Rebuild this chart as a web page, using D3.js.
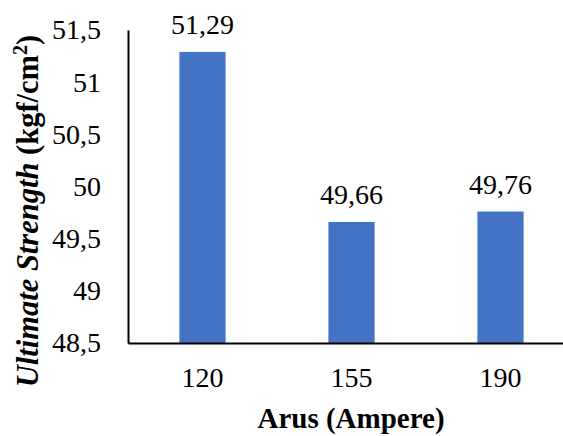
<!DOCTYPE html>
<html><head><meta charset="utf-8">
<script src="https://cdn.jsdelivr.net/npm/d3@7"></script>
<style>body{margin:0;background:#fff}svg{display:block}</style>
</head><body><svg id="c" width="563" height="436"></svg>
<script>
const categories = ["120","155","190"];
const values = [51.29, 49.66, 49.76];
const yTicks = [48.5, 49, 49.5, 50, 50.5, 51, 51.5];

const FONT = "'Liberation Serif', 'Times New Roman', serif";
const svg = d3.select("#c").style("font-family", FONT);
const mLeft = 128, mTop = 30, mBottom = 343;
const x = d3.scaleBand().domain(categories).range([mLeft, mLeft + 3*149]).paddingInner(0.69).paddingOuter(0.345);
const y = d3.scaleLinear().domain([48.5, 51.5]).range([mBottom, mTop]);
const fmt = v => String(v).replace(".", ",");

svg.selectAll("rect.bar").data(values).join("rect")
  .attr("x", (d,i) => x(categories[i]) )
  .attr("width", x.bandwidth())
  .attr("y", d => y(d)).attr("height", d => y(48.5) - y(d))
  .attr("fill", "#4472C4");

svg.selectAll("text.lbl").data(values).join("text")
  .attr("x", (d,i) => x(categories[i]) + x.bandwidth()/2)
  .attr("y", d => y(d) - 18)
  .attr("text-anchor", "middle")
  .style("font-family", FONT).style("font-size", "28px").attr("fill", "#000")
  .text(d => fmt(d.toFixed(2)));

const yAxis = svg.append("g").attr("transform", `translate(${mLeft},0)`)
  .call(d3.axisLeft(y).tickValues(yTicks).tickSize(0).tickPadding(27).tickFormat(fmt));
yAxis.attr("font-family", null).attr("font-size", null);
yAxis.select(".domain").attr("stroke", "#000").attr("stroke-width", 2);
yAxis.selectAll("text").style("font-size", "28px").style("font-family", FONT).attr("fill", "#000");

const xAxis = svg.append("g").attr("transform", `translate(0,${mBottom})`)
  .call(d3.axisBottom(x).tickSize(0).tickPadding(24));
xAxis.attr("font-family", null).attr("font-size", null);
xAxis.select(".domain").attr("stroke", "#000").attr("stroke-width", 2);
xAxis.selectAll("text").style("font-size", "28px").style("font-family", FONT).attr("fill", "#000");

svg.append("text").attr("x", 351).attr("y", 428).attr("text-anchor", "middle")
  .style("font-family", FONT).style("font-size", "29px").style("font-weight", "bold").text("Arus (Ampere)");

const yt = svg.append("text").attr("transform", "translate(38,211) rotate(-90)")
  .attr("text-anchor", "middle")
  .style("font-family", FONT).style("font-size", "30.5px").style("font-weight", "bold");
yt.append("tspan").style("font-style", "italic").text("Ultimate Strength");
yt.append("tspan").text(" (kgf/cm");
yt.append("tspan").style("font-size", "20px").attr("dy", -11).text("2");
yt.append("tspan").attr("dy", 11).text(")");
</script></body></html>
